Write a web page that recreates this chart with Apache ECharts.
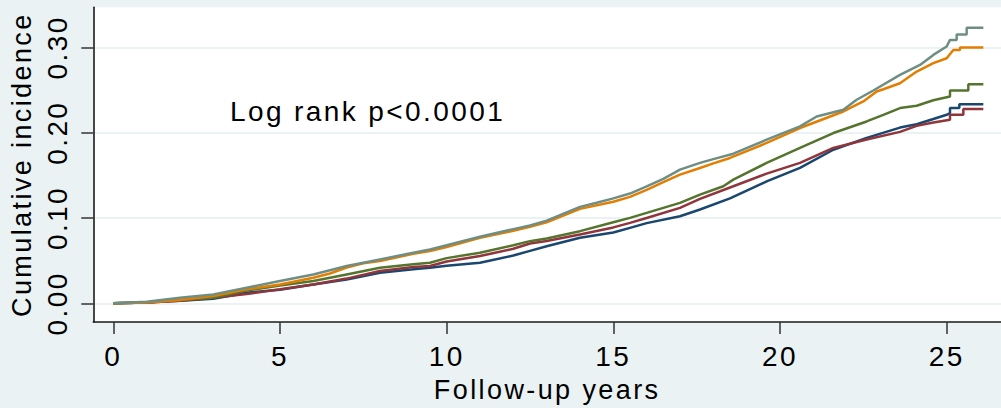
<!DOCTYPE html>
<html>
<head>
<meta charset="utf-8">
<script src="https://cdn.jsdelivr.net/npm/echarts@6/dist/echarts.min.js"></script>
<style>
  html, body { margin: 0; padding: 0; background: #eaf2f3; }
  #chart { width: 1001px; height: 408px; }
  #chart text { letter-spacing: 2.4px; }
</style>
</head>
<body>
<div id="chart"></div>
<script>
// ---- data ----
const xTicks = [0, 5, 10, 15, 20, 25];
const yTicks = [0, 0.1, 0.2, 0.3];
const xTitle = 'Follow-up years';
const yTitle = 'Cumulative incidence';
const note = 'Log rank p<0.0001';
const colors = ['#1a476f', '#90353b', '#55752f', '#e37e00', '#6e8e84'];
const names = ['Group 1', 'Group 2', 'Group 3', 'Group 4', 'Group 5'];

const navyT = [0, 1, 2, 3, 4, 5, 6, 7, 8, 9, 9.5, 10, 11, 12, 12.5, 13, 14, 15, 15.5, 16, 17, 17.6, 18.5, 19.6, 20.6, 21.6, 22.6, 23.6, 24.1, 24.6, 25.0, 25.1, 25.1, 25.38, 25.38, 26.1];
const navyV = [0, 0.001, 0.003, 0.0055, 0.0125, 0.016, 0.022, 0.028, 0.0359, 0.040, 0.0417, 0.044, 0.0476, 0.056, 0.0615, 0.067, 0.0768, 0.083, 0.0885, 0.094, 0.1021, 0.110, 0.123, 0.143, 0.1587, 0.180, 0.194, 0.206, 0.210, 0.216, 0.221, 0.223, 0.2289, 0.2289, 0.2335, 0.2335];

const maroonT = [0, 1, 2, 3, 4, 5, 6, 7, 8, 9, 9.5, 10, 11, 12, 12.5, 13, 14, 15, 15.5, 16, 17, 17.6, 18.6, 19.6, 20.6, 21.6, 22.6, 23.6, 24.1, 24.6, 25.1, 25.1, 25.5, 25.5, 26.1];
const maroonV = [0, 0.001, 0.003, 0.0066, 0.011, 0.0164, 0.0222, 0.029, 0.0378, 0.0427, 0.0437, 0.049, 0.0554, 0.064, 0.0702, 0.073, 0.0807, 0.089, 0.0943, 0.100, 0.1119, 0.1225, 0.1372, 0.152, 0.1646, 0.1821, 0.192, 0.201, 0.208, 0.212, 0.2152, 0.221, 0.221, 0.2277, 0.2277];

const greenT = [0, 1, 2, 3, 4, 5, 6, 7, 8, 9, 9.5, 10, 11, 12, 12.5, 13, 14, 15, 15.5, 16, 17, 17.6, 18.3, 18.6, 19.6, 20.6, 21.6, 22.6, 23.1, 23.6, 24.1, 24.6, 25.1, 25.1, 25.65, 25.65, 26.1];
const greenV = [0, 0.001, 0.004, 0.0066, 0.015, 0.021, 0.0261, 0.0339, 0.0417, 0.0457, 0.0476, 0.053, 0.0593, 0.068, 0.0729, 0.076, 0.0846, 0.095, 0.1002, 0.106, 0.1178, 0.1275, 0.1372, 0.145, 0.1646, 0.1821, 0.1996, 0.2132, 0.221, 0.2289, 0.2316, 0.238, 0.2425, 0.2495, 0.2495, 0.2569, 0.2569];

const orangeT = [0, 1, 2, 3, 4, 5, 6, 6.5, 7, 7.5, 8, 9, 9.5, 10, 11, 12, 12.5, 13, 14, 15, 15.5, 16, 16.5, 17, 17.6, 18, 18.5, 19.6, 20.6, 21.9, 22.5, 22.9, 23.1, 23.6, 24.1, 24.6, 25.0, 25.2, 25.4, 25.4, 26.1];
const orangeV = [0, 0.001, 0.004, 0.0086, 0.0164, 0.0222, 0.030, 0.035, 0.042, 0.047, 0.0495, 0.058, 0.0612, 0.066, 0.0768, 0.085, 0.0896, 0.095, 0.1107, 0.119, 0.1248, 0.133, 0.142, 0.1509, 0.1587, 0.164, 0.1704, 0.188, 0.2055, 0.2249, 0.2366, 0.2483, 0.251, 0.258, 0.2717, 0.2815, 0.2873, 0.297, 0.297, 0.300, 0.300];

const tealT = [0, 1, 2, 3, 4, 5, 6, 7, 8, 9, 9.5, 10, 11, 12, 12.5, 13, 14, 14.5, 15, 15.5, 16, 16.5, 17, 17.6, 18, 18.6, 19.6, 20.6, 21.1, 21.9, 22.3, 22.8, 23.6, 24.2, 24.6, 25.0, 25.1, 25.3, 25.3, 25.6, 25.6, 26.1];
const tealV = [0, 0.002, 0.0066, 0.0105, 0.0183, 0.0261, 0.0339, 0.0437, 0.0515, 0.0593, 0.0632, 0.068, 0.078, 0.087, 0.0912, 0.097, 0.1131, 0.118, 0.123, 0.1287, 0.137, 0.146, 0.1567, 0.1646, 0.169, 0.1754, 0.1918, 0.2074, 0.219, 0.227, 0.2386, 0.2495, 0.2678, 0.2795, 0.2912, 0.301, 0.3088, 0.3088, 0.315, 0.315, 0.323, 0.323];

const groupsT = [navyT, maroonT, greenT, orangeT, tealT];
const groupsV = [navyV, maroonV, greenV, orangeV, tealV];

// ---- chart ----
const chart = echarts.init(document.getElementById('chart'), null, { renderer: 'svg' });
const FONT = "'Liberation Sans', Arial, sans-serif";

const series = groupsT.map((ts, i) => ({
  name: names[i],
  type: 'line',
  data: ts.map((t, k) => [t, groupsV[i][k]]),
  showSymbol: false,
  symbol: 'none',
  lineStyle: { color: colors[i], width: 2.5 },
  itemStyle: { color: colors[i] },
  z: 2 + i
}));

chart.setOption({
  animation: false,
  backgroundColor: '#eaf2f3',
  grid: {
    left: 93.3, top: 7.3, right: 0, bottom: 85.3,
    show: true, backgroundColor: '#ffffff', borderWidth: 0
  },
  xAxis: {
    type: 'value',
    min: -0.6, max: 26.63,
    name: xTitle,
    nameLocation: 'middle',
    nameGap: 54,
    nameTextStyle: { fontFamily: FONT, fontSize: 27, color: '#000' },
    axisLine: { show: true, onZero: false, lineStyle: { color: '#1a1a1a', width: 1.6 } },
    axisTick: { show: true, length: 12, customValues: xTicks, lineStyle: { color: '#333', width: 1.5 } },
    axisLabel: { customValues: xTicks, margin: 20, fontFamily: FONT, fontSize: 28, color: '#000' },
    splitLine: { show: false }
  },
  yAxis: {
    type: 'value',
    min: -0.02187, max: 0.347,
    name: yTitle,
    nameLocation: 'middle',
    nameGap: 58,
    nameRotate: 90,
    nameTextStyle: { fontFamily: FONT, fontSize: 27, color: '#000' },
    axisLine: { show: true, onZero: false, lineStyle: { color: '#1a1a1a', width: 1.6 } },
    axisTick: { show: true, length: 12, customValues: yTicks, lineStyle: { color: '#333', width: 1.5 } },
    axisLabel: {
      customValues: yTicks, rotate: 90, margin: 22,
      fontFamily: FONT, fontSize: 28, color: '#000',
      formatter: v => v.toFixed(2)
    },
    splitLine: { show: true, lineStyle: { color: '#eaf2f3', width: 2 } }
  },
  graphic: [{
    type: 'text',
    left: 230, top: 97,
    style: { text: note, font: "28px 'Liberation Sans', Arial, sans-serif", fill: '#000' },
    z: 10
  }],
  series: series
});
</script>
</body>
</html>
